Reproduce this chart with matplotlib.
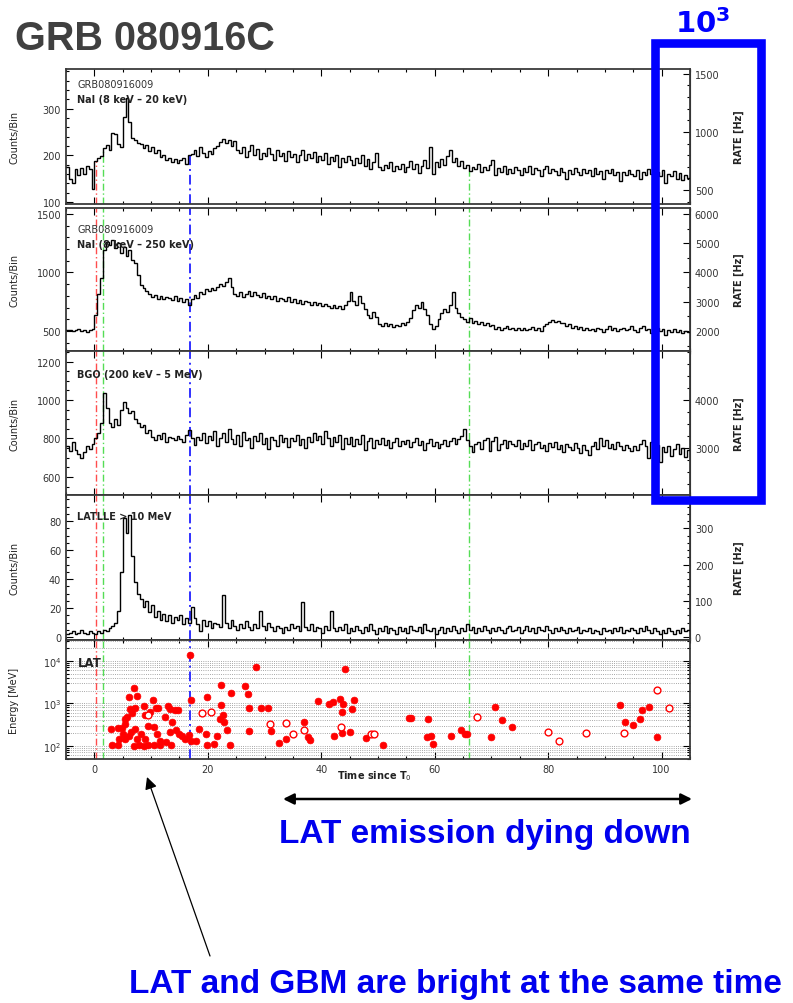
import numpy as np
import matplotlib
matplotlib.use('Agg')
import matplotlib.pyplot as plt
from matplotlib import font_manager
from matplotlib.ticker import MultipleLocator, LogLocator, NullFormatter
from matplotlib.patches import Rectangle, FancyArrowPatch

W, H = 793, 1004

# light curves, 0.5 s bins starting at -5 s (counts/bin)
t_start = -5.0
t_bin = 0.5

nai_lo = [
    175, 150, 142, 170, 158, 172, 160, 178, 170, 128, 188, 195, 198, 215, 222, 212, 248, 245, 225, 218,
    282, 322, 272, 238, 232, 226, 224, 215, 222, 210, 218, 205, 212, 196, 200, 190, 195, 186, 192, 184,
    190, 195, 182, 200, 204, 212, 198, 218, 205, 196, 210, 202, 215, 220, 228, 235, 226, 234, 220, 230,
    212, 205, 218, 196, 210, 222, 200, 214, 192, 206, 198, 215, 202, 190, 212, 198, 205, 188, 210, 196,
    204, 185, 200, 212, 190, 202, 195, 208, 186, 198, 190, 205, 182, 196, 188, 200, 176, 194, 185, 198,
    190, 180, 195, 184, 200, 178, 192, 170, 186, 205, 175, 168, 180, 172, 185, 166, 178, 170, 182, 165,
    176, 188, 170, 182, 162, 178, 190, 172, 218, 160, 185, 175, 192, 180, 198, 212, 185, 195, 178, 188,
    172, 180, 166, 175, 170, 182, 164, 176, 168, 180, 190, 158, 172, 165, 178, 160, 170, 162, 176, 168,
    158, 172, 165, 178, 160, 174, 168, 155, 170, 178, 162, 170, 166, 158, 172, 164, 150, 168, 160, 172,
    165, 158, 170, 162, 168, 155, 172, 160, 166, 150, 168, 162, 170, 158, 164, 145, 165, 158, 168, 160,
    155, 168, 150, 165, 158, 170, 160, 148, 165, 156, 168, 140, 160, 155, 166, 150, 162, 148, 158, 152,
]

nai_hi = [
    505, 512, 498, 510, 515, 502, 508, 495, 512, 520, 640, 820, 950, 1190, 1260, 1235, 1280, 1210, 1250, 1170,
    1215, 1140, 1190, 1110, 1080, 980, 890, 870, 840, 815, 790, 805, 775, 800, 770, 790, 780, 765, 795, 760,
    780, 745, 770, 725, 775, 810, 780, 835, 820, 860, 840, 870, 850, 880, 900, 885, 920, 950, 880, 820,
    800, 830, 790, 815, 845, 800, 830, 810, 790, 825, 780, 800, 770, 795, 760, 785, 770, 755, 790, 745,
    775, 740, 765, 735, 760, 745, 725, 750, 720, 740, 710, 730, 715, 700, 725, 695, 715, 690, 720, 760,
    830, 760, 720, 800, 740, 690, 640, 610, 660, 620, 560, 545, 570, 540, 560, 535, 555, 545, 570, 550,
    575, 610, 680, 720, 700, 750, 690, 640, 560, 520, 540, 600, 650, 690, 660, 720, 830, 700, 650, 620,
    600, 580, 610, 570, 590, 560, 575, 550, 565, 540, 555, 520, 535, 510, 525, 540, 515, 530, 505, 525,
    510, 530, 505, 520, 535, 510, 525, 500, 540, 560, 580, 595, 575, 590, 565, 570, 545, 560, 530, 545,
    520, 535, 510, 525, 505, 520, 500, 530, 515, 495, 520, 540, 510, 525, 500, 515, 530, 505, 520, 545,
    510, 495, 525, 540, 505, 520, 480, 515, 530, 500, 520, 470, 505, 495, 515, 490, 510, 480, 500, 495,
]

bgo = [
    760, 735, 780, 740, 720, 700, 730, 760, 745, 770, 800, 830, 880, 1035, 960, 880, 860, 900, 870, 950,
    990, 960, 930, 945, 900, 880, 860, 870, 830, 845, 810, 790, 820, 795, 830, 780, 810, 800, 790, 815,
    795, 780, 820, 845, 800, 765, 810, 790, 830, 775, 815, 790, 840, 760, 805, 830, 780, 850, 795, 770,
    820, 760, 835, 790, 805, 750, 815, 785, 830, 770, 800, 745, 810, 790, 760, 820, 780, 805, 755, 800,
    785, 820, 765, 795, 750, 810, 780, 830, 790, 815, 770, 840, 800, 760, 810, 780, 820, 745, 800, 770,
    810, 760, 795, 770, 820, 740, 785, 805, 750, 790, 770, 800, 765, 790, 750, 780, 800, 760, 785, 770,
    790, 755, 780, 800, 765, 785, 740, 775, 795, 760, 780, 750, 770, 790, 760, 785, 800, 770, 795, 815,
    850, 790, 760, 730, 770, 780, 745, 790, 800, 735, 785, 810, 740, 770, 790, 750, 785, 770, 760, 790,
    745, 775, 760, 790, 740, 770, 780, 750, 765, 735, 775, 755, 780, 745, 765, 730, 770, 755, 740, 775,
    750, 725, 765, 740, 715, 760, 780, 745, 800, 760, 790, 750, 770, 745, 780, 760, 740, 765, 750, 735,
    760, 740, 770, 790, 760, 700, 780, 745, 765, 680, 755, 730, 760, 710, 745, 770, 720, 750, 705, 740,
]

lle = [
    2, 3, 4, 2, 3, 5, 3, 2, 4, 3, 2, 4, 3, 5, 4, 6, 8, 10, 18, 45,
    82, 72, 84, 56, 38, 30, 26, 21, 25, 17, 22, 14, 18, 12, 16, 11, 15, 10, 14, 12,
    15, 9, 13, 10, 21, 13, 9, 4, 12, 8, 11, 6, 10, 9, 7, 29, 10, 6, 12, 8,
    5, 9, 6, 11, 7, 5, 9, 6, 18, 8, 5, 10, 7, 4, 8, 6, 3, 7, 5, 9,
    6, 8, 4, 24, 7, 5, 9, 4, 7, 6, 3, 8, 5, 18, 6, 4, 7, 5, 9, 3,
    6, 4, 8, 5, 3, 7, 4, 9, 5, 2, 6, 4, 8, 3, 6, 5, 2, 7, 4, 6,
    3, 8, 5, 4, 7, 3, 9, 5, 4, 6, 2, 5, 7, 3, 6, 4, 8, 5, 3, 6,
    4, 9, 5, 7, 3, 6, 4, 8, 5, 3, 6, 4, 7, 5, 3, 6, 8, 4, 5, 7,
    3, 5, 8, 4, 6, 3, 7, 5, 4, 8, 5, 3, 6, 4, 7, 5, 3, 6, 4, 5,
    7, 3, 5, 4, 6, 3, 5, 4, 2, 6, 4, 5, 3, 6, 4, 7, 3, 5, 4, 6,
    5, 3, 6, 4, 8, 5, 3, 6, 4, 2, 5, 3, 6, 4, 2, 5, 3, 6, 4, 5,
]

# LAT photons: time [s], energy [MeV]
lat_t = [16.8, 28.5, 44.2, 6.1, 7.0, 7.5, 10.4, 17.0, 19.9, 22.4, 24.1, 26.5, 27.0, 27.3,
         29.4, 30.6, 39.5, 41.3, 42.1, 43.3, 43.9, 43.6, 45.4, 45.8, 22.4, 22.2, 22.6, 22.8,
         23.4, 21.7, 21.1, 23.9, 19.9, 18.4, 18.0, 19.6, 27.2, 31.2, 32.5, 33.7, 37.0, 37.7,
         38.1, 42.2, 43.6, 45.1, 47.9, 50.9, 55.8,
         3.1, 4.2, 8.7, 2.9, 4.1, 4.8, 5.4, 5.8, 6.3, 6.7, 7.2, 5.4, 6.1, 6.5, 7.2, 7.6, 8.7,
         9.0, 9.4, 9.8, 9.0, 10.8, 11.3, 11.0, 11.6, 12.5, 13.0, 13.4, 14.2, 14.7, 13.7, 13.4,
         14.4, 14.9, 15.5, 13.5, 15.9, 16.6, 17.1, 5.1, 8.3, 6.9, 7.9, 4.3, 5.4, 9.4, 10.6,
         12.6, 10.6, 11.6,
         55.5, 58.8, 58.6, 59.4, 59.7, 62.9, 64.7, 65.4, 65.7, 69.9, 70.7, 71.9, 73.7, 92.6,
         93.6, 95.0, 96.2, 96.6, 97.8, 99.2]
lat_e = [13800, 7240, 6610, 1380, 2240, 1510, 1175, 1175, 1445, 2690, 1740, 2510, 1660, 760,
         776, 776, 1150, 955, 1050, 1260, 955, 630, 725, 1175, 910, 427, 525, 355,
         240, 174, 110, 105, 105, 245, 132, 186, 224, 224, 115, 145, 355, 158,
         138, 174, 200, 214, 151, 105, 447,
         105, 105, 871, 251, 257, 269, 324, 468, 724, 603, 794, 145, 174, 209, 251, 145, 100,
         145, 295, 617, 537, 758, 794, 191, 105, 468, 871, 724, 708, 708, 355, 209,
         240, 191, 174, 105, 145, 178, 132, 191, 191, 100, 105, 145, 427, 105, 105,
         120, 282, 132,
         447, 427, 158, 174, 112, 174, 240, 186, 186, 158, 832, 398, 282, 912,
         363, 309, 437, 708, 813, 162]
lat_t_open = [9.4, 18.9, 20.6, 31.0, 33.7, 35.1, 36.9, 43.4, 48.7, 49.3, 67.4, 79.9, 81.9,
              86.7, 93.3, 99.1, 101.3]
lat_e_open = [537, 589, 631, 324, 339, 186, 240, 282, 191, 195, 479, 214, 132,
              204, 204, 2040, 776]

# time markers (vertical dash-dot lines)
t_marks = [0.3, 1.6, 16.8, 66.0]
mark_colors = ['#ff4d4d', '#55dd55', '#3030ff', '#55dd55']

bin_to_sec = 0.25  # counts/bin -> Hz

plt.rcParams['font.family'] = ['DejaVu Sans']

fig = plt.figure(figsize=(W / 100, H / 100), dpi=100)


def frame(top, bottom):
    return fig.add_axes([66 / W, 1 - bottom / H, 624 / W, (bottom - top) / H])


def ftext(x, y, s, **kw):
    fig.text(x / W, 1 - y / H, s, **kw)


edges = t_start + t_bin * np.arange(len(nai_lo) + 1)

panels = [
    # top, bottom, data, ylim, major, minor, rate ticks, rate minor
    (70, 205, nai_lo, (96, 385), 100, 20, [500, 1000, 1500], 100),
    (209, 352, nai_hi, (330, 1550), 500, 100, [2000, 3000, 4000, 5000, 6000], 500),
    (352, 496, bgo, (506, 1255), 200, 50, [3000, 4000], 250),
    (496, 641, lle, (-2, 98), 20, 5, [0, 100, 200, 300], 20),
]

tick_col = '#333333'
spine_col = '#3a3a3a'

for k, (top, bot, vals, ylim, maj, mnr, rticks, rminor) in enumerate(panels):
    ax = frame(top, bot)
    ax.stairs(vals, edges, color='black', lw=1.0, baseline=None, zorder=3)
    ax.set_xlim(-5, 105)
    ax.set_ylim(*ylim)
    ax.xaxis.set_major_locator(MultipleLocator(20))
    ax.xaxis.set_minor_locator(MultipleLocator(5))
    ax.yaxis.set_major_locator(MultipleLocator(maj))
    ax.yaxis.set_minor_locator(MultipleLocator(mnr))
    ax.tick_params(which='both', direction='in', top=True, right=False,
                   labelbottom=False, labelsize=7, labelcolor=tick_col, width=0.8)
    ax.tick_params(which='major', length=5)
    ax.tick_params(which='minor', length=2.5)
    for s in ax.spines.values():
        s.set_linewidth(1.3)
        s.set_color(spine_col)
    ax.set_ylabel('Counts/Bin', fontsize=7, color='#222222')
    ax.yaxis.set_label_coords(-0.075, 0.5)

    sec = ax.secondary_yaxis('right', functions=(lambda c: c / bin_to_sec,
                                                 lambda r: r * bin_to_sec))
    sec.set_yticks(rticks)
    sec.yaxis.set_minor_locator(MultipleLocator(rminor))
    sec.tick_params(which='both', direction='in', labelsize=7, labelcolor=tick_col, width=0.8)
    sec.tick_params(which='major', length=5)
    sec.tick_params(which='minor', length=2.5)
    ftext(739, (top + bot) / 2, 'RATE [Hz]', fontsize=7, fontweight='bold',
          color='#222222', rotation=90, ha='center', va='center')

    for t, c in zip(t_marks, mark_colors):
        lw = 1.4 if c == '#3030ff' else 1.0
        if k == 0:
            idx = int((t - t_start) // t_bin)
            ax.vlines(t, ylim[0], vals[idx], colors=c, lw=lw,
                      linestyles=(0, (5, 2, 1, 2)), zorder=2)
        else:
            ax.axvline(t, color=c, lw=lw, ls=(0, (5, 2, 1, 2)), zorder=2)

# panel labels
ftext(77, 80, 'GRB080916009', fontsize=7, color='#333333', va='top')
ftext(77, 95, 'NaI (8 keV – 20 keV)', fontsize=7, fontweight='bold', color='#222222', va='top')
ftext(77, 225, 'GRB080916009', fontsize=7, color='#333333', va='top')
ftext(77, 240, 'NaI (8 keV – 250 keV)', fontsize=7, fontweight='bold', color='#222222', va='top')
ftext(77, 370, 'BGO (200 keV – 5 MeV)', fontsize=7, fontweight='bold', color='#222222', va='top')
ftext(77, 512, 'LATLLE > 10 MeV', fontsize=7, fontweight='bold', color='#222222', va='top')

# LAT panel
ax = frame(641, 760)
ax.set_yscale('log')
ax.set_xlim(-5, 105)
ax.set_ylim(49, 31000)
ax.yaxis.set_major_locator(LogLocator(base=10, numticks=10))
ax.yaxis.set_minor_locator(LogLocator(base=10, subs=np.arange(2, 10), numticks=20))
ax.yaxis.set_minor_formatter(NullFormatter())
ax.grid(which='both', axis='y', ls=':', color='#8a8a8a', lw=0.6, zorder=0)
ax.scatter(lat_t, lat_e, s=24, c='red', edgecolors='red', lw=0.5, zorder=4)
ax.scatter(lat_t_open, lat_e_open, s=24, facecolors='white', edgecolors='red', lw=1.0, zorder=4)
ax.xaxis.set_major_locator(MultipleLocator(20))
ax.xaxis.set_minor_locator(MultipleLocator(5))
ax.tick_params(which='both', direction='in', top=True, right=True,
               labelsize=7, labelcolor=tick_col, width=0.8)
ax.tick_params(which='major', length=5)
ax.tick_params(which='minor', length=2.5)
for s in ax.spines.values():
    s.set_linewidth(1.3)
    s.set_color(spine_col)
ax.set_ylabel('Energy [MeV]', fontsize=7, color='#222222')
ax.yaxis.set_label_coords(-0.075, 0.5)
for t, c in zip(t_marks, mark_colors):
    lw = 1.4 if c == '#3030ff' else 1.0
    ax.axvline(t, color=c, lw=lw, ls=(0, (5, 2, 1, 2)), zorder=2)
ftext(78, 657, 'LAT', fontsize=8.5, fontweight='bold', color='#222222', va='top')
ftext(374, 776, 'Time since T$_0$', fontsize=7, fontweight='bold', color='#222222',
      ha='center', va='center')

# slide annotations
ftext(15, 50, 'GRB 080916C', fontsize=28.5, fontweight='bold', color='#404040',
      family='Liberation Sans', va='baseline')
ftext(675, 33, r'$\mathbf{10^3}$', fontsize=21, color='#0000ff', va='baseline')
fig.add_artist(Rectangle((655 / W, 1 - 501 / H), (761 - 655) / W, (501 - 44) / H,
                         transform=fig.transFigure, fill=False, ec='#0000ff', lw=6.2,
                         zorder=10))

fig.add_artist(FancyArrowPatch((283 / W, 1 - 800 / H), (692 / W, 1 - 800 / H),
                               transform=fig.transFigure, arrowstyle='<|-|>',
                               mutation_scale=16, lw=1.8, color='black',
                               shrinkA=0, shrinkB=0))
fig.add_artist(FancyArrowPatch((210 / W, 1 - 957 / H), (147 / W, 1 - 778 / H),
                               transform=fig.transFigure, arrowstyle='-|>',
                               mutation_scale=18, lw=0.9, color='black',
                               shrinkA=0, shrinkB=0))

installed = {f.name for f in font_manager.fontManager.ttflist}
if 'Liberation Sans Narrow' in installed:
    note_font, note_size = 'Liberation Sans Narrow', 29
else:
    note_font, note_size = 'Liberation Sans', 24
ftext(485, 843, 'LAT emission dying down', fontsize=note_size, fontweight='bold',
      color='#0000ee', family=note_font, ha='center', va='baseline')
ftext(455, 993, 'LAT and GBM are bright at the same time', fontsize=note_size,
      fontweight='bold', color='#0000ee', family=note_font, ha='center', va='baseline')

fig.savefig('out.png', dpi=100)
